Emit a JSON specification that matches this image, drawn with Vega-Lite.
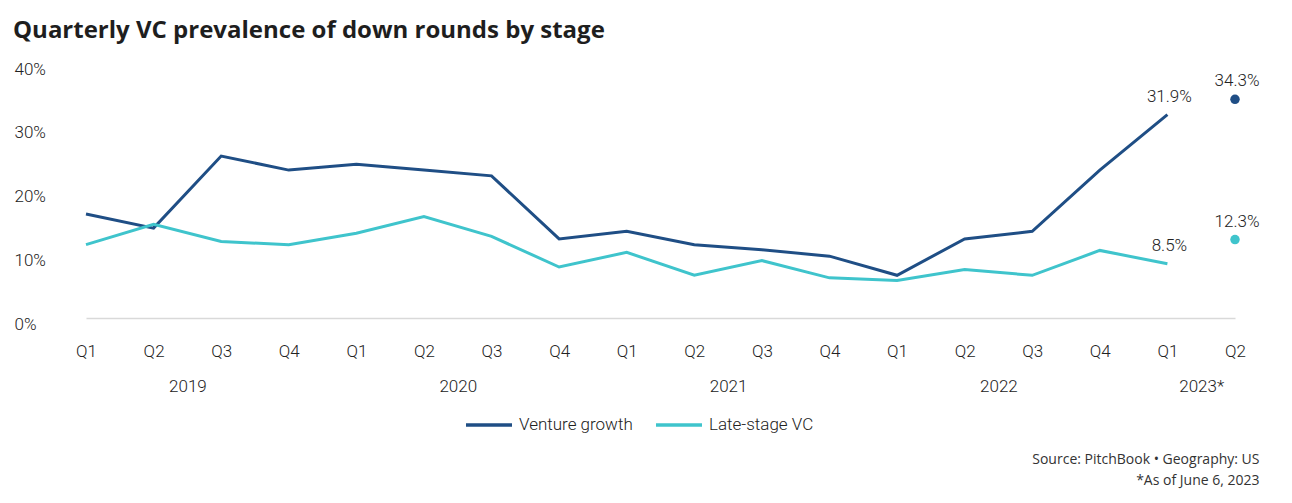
{
  "$schema": "https://vega.github.io/schema/vega-lite/v6.json",
  "autosize": {"type": "none"},
  "padding": {"left": 86, "top": 63, "right": 57, "bottom": 185},
  "width": 1149,
  "height": 255,
  "background": "white",
  "title": {
    "text": "Quarterly VC prevalence of down rounds by stage",
    "anchor": "start",
    "frame": "group",
    "font": "Open Sans",
    "fontSize": 24,
    "fontWeight": "bold",
    "color": "#1e1e1e",
    "baseline": "alphabetic",
    "dx": -73,
    "dy": 24,
    "offset": 22
  },
  "data": {
    "values": [
      {"i": 0, "period": "2019 Q1", "series": "Venture growth", "value": 0.163},
      {"i": 1, "period": "2019 Q2", "series": "Venture growth", "value": 0.141},
      {"i": 2, "period": "2019 Q3", "series": "Venture growth", "value": 0.254},
      {"i": 3, "period": "2019 Q4", "series": "Venture growth", "value": 0.232},
      {"i": 4, "period": "2020 Q1", "series": "Venture growth", "value": 0.241},
      {"i": 5, "period": "2020 Q2", "series": "Venture growth", "value": 0.232},
      {"i": 6, "period": "2020 Q3", "series": "Venture growth", "value": 0.223},
      {"i": 7, "period": "2020 Q4", "series": "Venture growth", "value": 0.124},
      {"i": 8, "period": "2021 Q1", "series": "Venture growth", "value": 0.136},
      {"i": 9, "period": "2021 Q2", "series": "Venture growth", "value": 0.115},
      {"i": 10, "period": "2021 Q3", "series": "Venture growth", "value": 0.107},
      {"i": 11, "period": "2021 Q4", "series": "Venture growth", "value": 0.097},
      {"i": 12, "period": "2022 Q1", "series": "Venture growth", "value": 0.067},
      {"i": 13, "period": "2022 Q2", "series": "Venture growth", "value": 0.124},
      {"i": 14, "period": "2022 Q3", "series": "Venture growth", "value": 0.136},
      {"i": 15, "period": "2022 Q4", "series": "Venture growth", "value": 0.232},
      {"i": 16, "period": "2023 Q1", "series": "Venture growth", "value": 0.319},
      {"i": 17, "period": "2023 Q2", "series": "Venture growth", "value": 0.343},
      {"i": 0, "period": "2019 Q1", "series": "Late-stage VC", "value": 0.115},
      {"i": 1, "period": "2019 Q2", "series": "Late-stage VC", "value": 0.147},
      {"i": 2, "period": "2019 Q3", "series": "Late-stage VC", "value": 0.120},
      {"i": 3, "period": "2019 Q4", "series": "Late-stage VC", "value": 0.115},
      {"i": 4, "period": "2020 Q1", "series": "Late-stage VC", "value": 0.133},
      {"i": 5, "period": "2020 Q2", "series": "Late-stage VC", "value": 0.159},
      {"i": 6, "period": "2020 Q3", "series": "Late-stage VC", "value": 0.128},
      {"i": 7, "period": "2020 Q4", "series": "Late-stage VC", "value": 0.080},
      {"i": 8, "period": "2021 Q1", "series": "Late-stage VC", "value": 0.103},
      {"i": 9, "period": "2021 Q2", "series": "Late-stage VC", "value": 0.067},
      {"i": 10, "period": "2021 Q3", "series": "Late-stage VC", "value": 0.090},
      {"i": 11, "period": "2021 Q4", "series": "Late-stage VC", "value": 0.063},
      {"i": 12, "period": "2022 Q1", "series": "Late-stage VC", "value": 0.059},
      {"i": 13, "period": "2022 Q2", "series": "Late-stage VC", "value": 0.076},
      {"i": 14, "period": "2022 Q3", "series": "Late-stage VC", "value": 0.067},
      {"i": 15, "period": "2022 Q4", "series": "Late-stage VC", "value": 0.106},
      {"i": 16, "period": "2023 Q1", "series": "Late-stage VC", "value": 0.085},
      {"i": 17, "period": "2023 Q2", "series": "Late-stage VC", "value": 0.123}
    ]
  },
  "encoding": {
    "x": {
      "field": "i",
      "type": "quantitative",
      "scale": {"domain": [0, 17], "nice": false, "zero": false},
      "axis": {
        "values": [0, 1, 1.5, 2, 3, 4, 5, 5.5, 6, 7, 8, 9, 9.5, 10, 11, 12, 13, 13.5, 14, 15, 16, 16.5, 17],
        "labelExpr": "datum.value % 1 == 0 ? 'Q' + (datum.value % 4 + 1) : ['', datum.value > 16 ? '2023*' : '' + (2019 + floor(datum.value / 4))]",
        "labelOverlap": false,
        "labelFlush": false,
        "labelBound": false,
        "labelBaseline": "top",
        "labelPadding": 25,
        "labelLineHeight": 35.5,
        "labelFont": "Roboto",
        "labelFontWeight": 300,
        "labelFontSize": 17,
        "labelColor": "#222222",
        "ticks": false,
        "tickSize": 0,
        "grid": false,
        "domain": true,
        "domainColor": "#d9d9d9",
        "domainWidth": 1.5,
        "title": ["Source: PitchBook  •  Geography: US", "*As of June 6, 2023"],
        "titleFont": "Open Sans",
        "titleFontWeight": "normal",
        "titleFontSize": 14,
        "titleColor": "#333333",
        "titleAlign": "right",
        "titleAnchor": "end",
        "titleBaseline": "top",
        "titleLineHeight": 21,
        "titleX": 1173,
        "titleY": 134
      }
    },
    "y": {
      "field": "value",
      "type": "quantitative",
      "scale": {"domain": [0, 0.4], "nice": false},
      "axis": {
        "values": [0, 0.1, 0.2, 0.3, 0.4],
        "format": ".0%",
        "title": null,
        "grid": false,
        "domain": false,
        "ticks": false,
        "tickSize": 0,
        "labelAlign": "left",
        "labelBaseline": "middle",
        "labelPadding": 72,
        "labelOffset": 6,
        "labelFont": "Roboto",
        "labelFontWeight": 300,
        "labelFontSize": 17,
        "labelColor": "#222222"
      }
    },
    "color": {
      "field": "series",
      "type": "nominal",
      "scale": {"domain": ["Venture growth", "Late-stage VC"], "range": ["#1f4e85", "#3fc4cc"]},
      "legend": {
        "title": null,
        "orient": "none",
        "direction": "horizontal",
        "legendX": 378,
        "legendY": 337,
        "symbolType": "stroke",
        "symbolStrokeWidth": 3.5,
        "symbolSize": 2116,
        "symbolOpacity": 1,
        "labelFont": "Roboto",
        "labelFontWeight": 300,
        "labelFontSize": 17,
        "labelColor": "#222222",
        "labelOffset": 5,
        "columnPadding": 16,
        "padding": 0
      }
    }
  },
  "layer": [
    {
      "transform": [{"filter": "datum.i <= 16"}],
      "mark": {"type": "line", "strokeWidth": 3, "strokeJoin": "miter"}
    },
    {
      "transform": [{"filter": "datum.i == 17"}],
      "mark": {"type": "point", "filled": true, "opacity": 1, "size": 90}
    },
    {
      "transform": [{"filter": "datum.i >= 16"}],
      "mark": {"type": "text", "dy": -18, "dx": 2, "font": "Roboto", "fontWeight": 300, "fontSize": 17, "color": "#222222"},
      "encoding": {
        "text": {"field": "value", "type": "quantitative", "format": ".1%"},
        "color": {"value": "#222222"}
      }
    }
  ],
  "config": {"view": {"stroke": null}}
}
